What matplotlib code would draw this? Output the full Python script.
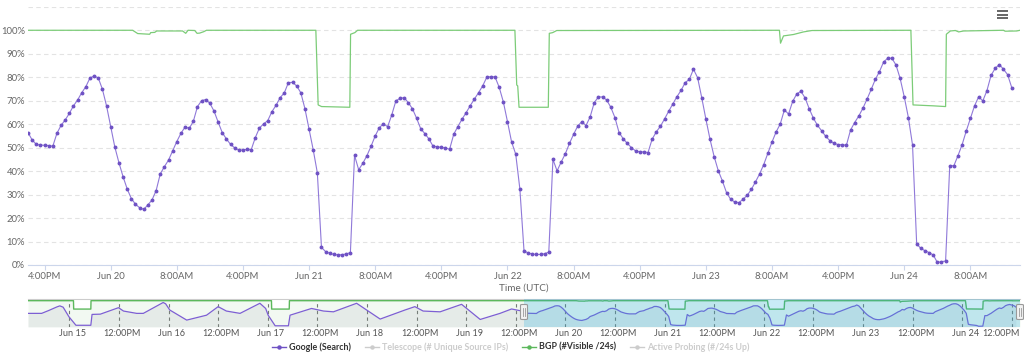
import numpy as np
import pandas as pd
import matplotlib
matplotlib.use('Agg')
import matplotlib.pyplot as plt
import matplotlib.dates as mdates
import matplotlib.transforms as mtransforms
from matplotlib.lines import Line2D
from matplotlib.patches import FancyBboxPatch

plt.rcParams['font.family'] = ['Lato', 'DejaVu Sans']

# Google (Search) - half-hourly, starting Jun 19 14:00 UTC
google_start = '2023-06-19 14:00'
google_values = [
    56.4, 53.3, 51.4, 51.1, 51.0, 50.9, 50.6, 56.1, 59.5, 61.8,
    64.6, 67.8, 70.3, 73.4, 76.0, 79.7, 80.5, 79.7, 74.9, 67.8,
    59.0, 50.3, 43.6, 37.6, 32.4, 28.3, 25.9, 24.4, 23.7, 25.6,
    27.7, 31.7, 38.8, 41.9, 44.7, 48.7, 52.6, 56.1, 58.8, 58.2,
    61.2, 67.5, 70.0, 70.5, 68.9, 65.6, 60.9, 56.4, 53.7, 51.4,
    49.9, 49.0, 49.0, 49.3, 49.1, 54.3, 58.4, 60.1, 61.5, 65.3,
    68.0, 71.3, 73.3, 77.7, 77.8, 76.3, 73.4, 66.6, 57.8, 49.1,
    39.3, 7.5, 5.7, 5.0, 4.5, 4.3, 4.4, 4.7, 5.3, 46.7,
    40.6, 43.3, 46.6, 50.6, 55.0, 58.5, 60.2, 58.9, 63.9, 69.9,
    71.0, 71.3, 69.2, 66.6, 62.6, 58.1, 56.0, 53.7, 50.6, 50.4,
    50.1, 49.9, 49.3, 55.7, 59.0, 62.1, 64.9, 67.9, 70.7, 73.4,
    76.3, 80.0, 80.3, 80.1, 75.7, 69.5, 61.1, 52.4, 47.2, 32.4,
    6.1, 5.1, 4.7, 4.5, 4.5, 4.8, 5.5, 45.0, 40.1, 43.9,
    47.4, 51.8, 55.7, 59.2, 61.1, 59.4, 63.1, 69.2, 71.6, 71.6,
    70.3, 67.2, 62.8, 56.4, 53.8, 51.8, 50.0, 48.6, 48.2, 48.2,
    47.9, 53.6, 56.7, 59.1, 62.2, 65.5, 68.6, 71.7, 74.4, 77.7,
    79.1, 83.4, 79.8, 71.3, 62.2, 53.6, 46.2, 40.2, 35.8, 30.8,
    28.0, 26.8, 26.6, 28.0, 29.7, 32.2, 35.4, 38.8, 42.8, 47.6,
    52.4, 56.7, 60.1, 66.1, 64.3, 69.7, 72.9, 74.0, 71.2, 66.6,
    62.6, 59.5, 57.2, 54.8, 53.0, 51.8, 51.3, 51.3, 51.0, 57.5,
    60.7, 63.5, 66.8, 70.7, 74.8, 79.1, 82.4, 86.5, 88.1, 88.1,
    85.2, 79.5, 71.6, 62.8, 51.1, 9.0, 7.1, 6.1, 5.3, 4.3,
    1.1, 1.4, 1.7, 42.3, 42.3, 46.6, 51.3, 57.1, 62.5, 67.8,
    71.7, 69.9, 74.3, 80.8, 83.8, 85.4, 83.4, 81.1, 75.6,
]

# BGP (#Visible /24s) - hours after google_start
bgp_hours = [0, 12.66, 13.27, 14.72, 14.84, 15.33, 15.57, 18.7, 19.08, 19.36,
             20.17, 20.45, 20.77, 21.26, 21.59, 34.82, 35.1, 35.51, 38.93, 39.02,
             39.54, 39.87, 58.9, 59.12, 59.24, 59.4, 62.94, 63.06, 63.47, 63.96,
             90.9, 91.03, 91.39, 92.6, 93.81, 94.83, 106.8, 107.06, 109.55, 111.0,
             111.09, 111.57, 112.18, 112.58, 113.18, 118.0, 118.2, 119.6, 120.0]
bgp_values = [100, 100, 98.6, 98.3, 99.0, 99.1, 99.7, 99.7, 98.7, 100,
              99.9, 98.7, 98.8, 99.4, 100, 100, 68.2, 67.5, 67.2, 98.3,
              99.0, 100, 100, 76.7, 76.3, 67.2, 67.2, 98.7, 99.0, 99.9,
              100, 94.5, 97.6, 98.2, 99.3, 99.9, 100, 68.2, 67.8, 67.5,
              98.3, 99.7, 99.9, 99.3, 99.7, 100, 99.6, 99.7, 100]

# earlier days, only visible in the navigator (hours after hist_start)
hist_start = '2023-06-14 14:00'
hist_google_hours = [0, 3.3, 5, 7, 7.7, 8.5, 9.9, 11.6, 15.2, 15.5,
                     17.5, 21.9, 23.1, 26.3, 27.9, 32.7, 33.3, 34.3, 38.4, 43.2,
                     46, 48, 51.3, 56.1, 57.5, 58.1, 59.8, 63, 63.4, 68.6,
                     71.5, 73.9, 79.5, 85.2, 91.2, 93.6, 95.6, 99.7, 104.9, 109.4,
                     114.2, 117, 119.5]
hist_google_values = [51, 51, 62, 76, 80, 75, 38, 5, 5, 47,
                      48, 73, 60, 51, 51, 93, 88, 64, 25, 44,
                      77, 60, 51, 90, 70, 44, 3, 3, 44, 70,
                      60, 57, 90, 29, 64, 77, 60, 57, 86, 27.5,
                      51, 68, 60]
hist_bgp_hours = [0, 11.0, 11.05, 15.2, 15.25, 58.9, 58.95, 63.2, 63.25, 120]
hist_bgp_values = [100, 100, 67.6, 67.6, 100, 100, 67.6, 67.6, 100, 100]

legend_labels = ['Google (Search)', 'Telescope (# Unique Source IPs)',
                 'BGP (#Visible /24s)', 'Active Probing (#/24s Up)']
legend_hidden = [False, True, False, True]

PURPLE = '#9079d9'
PURPLE_DARK = '#6f52c4'
GREEN = '#7ccc78'

g_times = pd.date_range(google_start, periods=len(google_values), freq='30min')
bgp_times = pd.Timestamp(google_start) + pd.to_timedelta(bgp_hours, unit='h')
hg_times = pd.Timestamp(hist_start) + pd.to_timedelta(hist_google_hours, unit='h')
hb_times = pd.Timestamp(hist_start) + pd.to_timedelta(hist_bgp_hours, unit='h')

sel_start = pd.Timestamp(google_start)
sel_end = sel_start + pd.Timedelta(hours=120)
nav_start = pd.Timestamp(hist_start)


def tick_label(d):
    if d.hour == 0 and d.minute == 0:
        return d.strftime('%b ') + str(d.day)
    h = d.hour % 12 or 12
    return f"{h}:{d.minute:02d}{'AM' if d.hour < 12 else 'PM'}"


W, H = 1024, 355


def fr(x0, y0, x1, y1):
    return [x0 / W, 1 - y1 / H, (x1 - x0) / W, (y1 - y0) / H]


fig = plt.figure(figsize=(W / 100, H / 100), dpi=100)

# main chart
ax = fig.add_axes(fr(28, 6.8, 1020, 265))
ax.plot(bgp_times, bgp_values, color=GREEN, lw=0.9, zorder=2)
ax.plot(g_times, google_values, color=PURPLE, lw=0.8, marker='o', ms=1.8,
        mfc=PURPLE_DARK, mec=PURPLE_DARK, zorder=3)
ax.set_xlim(sel_start, sel_end)
ax.set_ylim(0, 110)
ax.set_yticks(range(0, 111, 10))
ax.set_yticklabels([f"{v}%" if v <= 100 else '' for v in range(0, 111, 10)])
ax.yaxis.grid(True, color='#e3e3e3', lw=0.8, ls=(0, (4, 3)))
ax.set_axisbelow(True)
for s in ['top', 'right', 'left']:
    ax.spines[s].set_visible(False)
ax.spines['bottom'].set_color('#ccd6eb')
main_ticks = pd.date_range('2023-06-19 16:00', '2023-06-24 08:00', freq='8h')
ax.set_xticks(main_ticks)
ax.set_xticklabels([tick_label(t) for t in main_ticks])
ax.tick_params(axis='y', length=0, pad=2, labelsize=6.8, labelcolor='#666666')
ax.tick_params(axis='x', length=3.5, color='#ccd6eb', pad=1.5, labelsize=6.8,
               labelcolor='#666666')
ax.set_xlabel('Time (UTC)', fontsize=7.2, color='#666666', labelpad=2)

# navigator
nav = fig.add_axes(fr(28, 299.3, 1020, 326.7))
bgp_all_t = list(hb_times) + list(bgp_times)
bgp_all_v = hist_bgp_values + bgp_values
g_all_t = list(hg_times) + list(g_times)
g_all_v = hist_google_values + google_values
nav.fill_between(bgp_all_t, bgp_all_v, -1, color='#5cb85c', alpha=0.08, lw=0, zorder=1)
nav.fill_between(g_all_t, g_all_v, -1, color='#8c8ca0', alpha=0.12, lw=0, zorder=1)
nav.plot(bgp_all_t, bgp_all_v, color='#5cb85c', lw=1.0, zorder=3)
nav.plot(g_all_t, g_all_v, color='#7d5fd3', lw=0.9, zorder=3)
nav.axvspan(sel_start, sel_end, color=(0.12, 0.68, 0.88), alpha=0.24, lw=0, zorder=4)
nav.set_xlim(nav_start, sel_end)
nav.set_ylim(-0.5, 105.4)
nav.set_yticks([])
nav_ticks = pd.date_range('2023-06-15 00:00', '2023-06-24 12:00', freq='12h')
nav.set_xticks(nav_ticks)
nav.set_xticklabels([tick_label(t) for t in nav_ticks])
nav.tick_params(axis='x', length=0, pad=2, labelsize=6.6, labelcolor='#555555')
shift = mtransforms.ScaledTranslation(3 / 100, 0, fig.dpi_scale_trans)
nav_labels = nav.get_xticklabels()
for lab in nav_labels:
    lab.set_transform(lab.get_transform() + shift)
nav_labels[-1].set_horizontalalignment('right')
nav_labels[-1].set_transform(nav_labels[-1].get_transform()
                             + mtransforms.ScaledTranslation(5 / 100, 0, fig.dpi_scale_trans))
nav.xaxis.grid(True, color='#777777', lw=0.8, ls=(0, (3, 3)))
nav.set_axisbelow(True)
for s in ['right', 'left', 'bottom']:
    nav.spines[s].set_visible(False)
nav.spines['top'].set_color('#cccccc')

# navigator handles
for t in [sel_start, sel_end]:
    px = nav.transData.transform((mdates.date2num(t), 0))[0]
    fig.patches.append(FancyBboxPatch(((px - 3.5) / W, 1 - 319.5 / H), 7 / W, 15 / H,
                                      boxstyle='round,pad=0,rounding_size=0.002',
                                      transform=fig.transFigure, fc='#f2f2f2',
                                      ec='#999999', lw=0.8, zorder=10))
    for dx in (-1.2, 1.2):
        fig.add_artist(Line2D([(px + dx) / W] * 2, [1 - 316 / H, 1 - 308 / H],
                              color='#999999', lw=0.6, zorder=11))

# legend, laid out left to right and centred
leg_y = 1 - 347 / H
leg_colors = [PURPLE_DARK, '#cccccc', '#5cb85c', '#cccccc']
renderer = fig.canvas.get_renderer()
texts = []
for label, hidden in zip(legend_labels, legend_hidden):
    t = fig.text(0, leg_y, label, fontsize=6.4, fontweight='bold',
                 color='#cccccc' if hidden else '#333333', va='center', ha='left')
    texts.append(t)
widths = [t.get_window_extent(renderer).width for t in texts]
sym_w, sym_gap, item_gap = 14, 3, 14
total = sum(sym_w + sym_gap + w for w in widths) + item_gap * (len(widths) - 1)
x = 511 - total / 2
for t, w, col in zip(texts, widths, leg_colors):
    fig.add_artist(Line2D([x / W, (x + sym_w) / W], [leg_y, leg_y], color=col, lw=1.0))
    fig.add_artist(Line2D([(x + sym_w / 2) / W], [leg_y], color=col, marker='o', ms=2.2))
    t.set_x((x + sym_w + sym_gap) / W)
    x += sym_w + sym_gap + w + item_gap

# menu icon
for yy in (11, 14.7, 18.3):
    fig.add_artist(Line2D([997 / W, 1008 / W], [1 - yy / H] * 2, color='#666666',
                          lw=1.4, solid_capstyle='butt'))

fig.savefig('out.png', dpi=100)
